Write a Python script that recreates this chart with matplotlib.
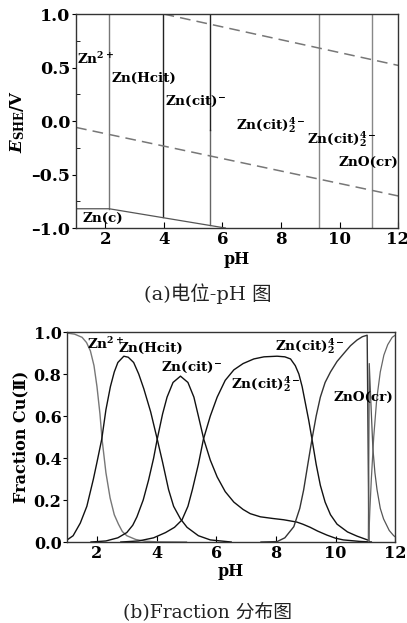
import matplotlib
matplotlib.use("Agg")
import matplotlib.pyplot as plt
from matplotlib.ticker import MultipleLocator

# ---- (a) potential-pH diagram ----
v_ph = [2.13, 3.97, 5.58, 5.58, 9.30, 11.12]
v_lo = [-0.82, -0.90, -0.97, -0.08, -1.0, -1.0]
v_hi = [1.0, 1.0, -0.08, 1.0, 1.0, 1.0]
v_col = ['#777777', '#222222', '#666666', '#222222', '#888888', '#888888']

znc_ph = [1.0, 2.13, 6.1]
znc_e = [-0.82, -0.82, -1.0]

wat_up_ph = [3.99, 12.0]
wat_up_e = [1.0, 0.52]
wat_lo_ph = [1.0, 12.0]
wat_lo_e = [-0.06, -0.70]

e_ticks = [-1.0, -0.5, 0.0, 0.5, 1.0]
e_ticklabels = ['\u20131.0', '\u20130.5', '0.0', '0.5', '1.0']

a_labels = [r'Zn$^{2+}$', 'Zn(Hcit)', r'Zn(cit)$^{-}$', r'Zn(cit)$_2^{4-}$',
            r'Zn(cit)$_2^{4-}$', 'ZnO(cr)', 'Zn(c)']
a_lx = [1.02, 2.2, 4.05, 6.45, 8.9, 9.95, 1.22]
a_ly = [0.58, 0.40, 0.18, -0.04, -0.17, -0.39, -0.91]

# ---- (b) fraction diagram ----
zn2_ph = [1.0, 1.25, 1.5, 1.65, 1.78, 1.9, 2.0, 2.1, 2.17, 2.3, 2.44, 2.58, 2.72,
          2.85, 3.0, 3.3, 3.6, 4.0, 5.0]
zn2_f = [0.995, 0.99, 0.975, 0.95, 0.91, 0.84, 0.74, 0.61, 0.49, 0.33, 0.21, 0.13,
         0.085, 0.05, 0.03, 0.012, 0.004, 0.001, 0.0]

hcit_ph = [1.0, 1.2, 1.44, 1.66, 1.88, 2.0, 2.16, 2.3, 2.45, 2.58, 2.7, 2.9, 3.05,
           3.23, 3.4, 3.57, 3.8, 4.02, 4.2, 4.4, 4.57, 4.8, 5.02, 5.4, 5.8, 6.5]
hcit_f = [0.01, 0.03, 0.09, 0.17, 0.3, 0.38, 0.49, 0.63, 0.74, 0.81, 0.855, 0.885,
          0.88, 0.855, 0.8, 0.73, 0.62, 0.49, 0.38, 0.25, 0.17, 0.11, 0.07, 0.03,
          0.01, 0.0]

cit_ph = [1.8, 2.3, 2.7, 3.0, 3.2, 3.34, 3.55, 3.73, 3.9, 4.02, 4.2, 4.35, 4.55, 4.8,
          5.05, 5.25, 5.4, 5.58, 5.8, 6.03, 6.3, 6.59, 6.9, 7.14, 7.48, 7.9, 8.26,
          8.5, 8.7, 8.9, 9.15, 9.4, 9.71, 10.0, 10.26, 10.8, 11.2]
cit_f = [0.0, 0.005, 0.02, 0.045, 0.08, 0.12, 0.2, 0.295, 0.4, 0.49, 0.61, 0.69,
         0.76, 0.79, 0.76, 0.69, 0.6, 0.49, 0.39, 0.31, 0.24, 0.19, 0.155, 0.135,
         0.12, 0.112, 0.106, 0.1, 0.095, 0.085, 0.07, 0.052, 0.033, 0.018, 0.01,
         0.003, 0.0]

cit2_ph = [2.8, 3.4, 3.9, 4.3, 4.6, 4.85, 5.05, 5.2, 5.4, 5.57, 5.8, 6.03, 6.3, 6.59,
           6.9, 7.26, 7.6, 8.04, 8.3, 8.49, 8.65, 8.77, 8.88, 8.99, 9.1, 9.21, 9.35,
           9.49, 9.65, 9.83, 10.05, 10.4, 10.72, 11.07]
cit2_f = [0.0, 0.005, 0.02, 0.045, 0.07, 0.105, 0.17, 0.25, 0.37, 0.49, 0.6, 0.69,
          0.77, 0.82, 0.85, 0.872, 0.882, 0.885, 0.882, 0.872, 0.84, 0.8, 0.74, 0.66,
          0.58, 0.49, 0.37, 0.27, 0.19, 0.13, 0.085, 0.048, 0.028, 0.01]

cit2b_ph = [7.5, 8.04, 8.3, 8.6, 8.8, 8.93, 9.07, 9.21, 9.35, 9.49, 9.65, 9.83,
            10.05, 10.27, 10.5, 10.72, 10.9, 11.06, 11.09, 11.12]
cit2b_f = [0.0, 0.002, 0.02, 0.073, 0.16, 0.248, 0.37, 0.49, 0.6, 0.69, 0.76, 0.81,
           0.86, 0.897, 0.935, 0.962, 0.978, 0.985, 0.5, 0.0]

spike_ph = [11.1, 11.13, 11.18, 11.25, 11.32, 11.39, 11.5, 11.61, 11.8, 11.95, 12.0]
spike_f = [0.0, 0.85, 0.68, 0.45, 0.33, 0.25, 0.16, 0.11, 0.055, 0.03, 0.025]

oh_ph = [11.11, 11.15, 11.2, 11.28, 11.38, 11.5, 11.62, 11.75, 11.9, 12.0]
oh_f = [0.0, 0.15, 0.3, 0.5, 0.68, 0.81, 0.89, 0.94, 0.975, 0.985]

b_labels = [r'Zn$^{2+}$', 'Zn(Hcit)', r'Zn(cit)$^{-}$', r'Zn(cit)$_2^{4-}$',
            r'Zn(cit)$_2^{4-}$', 'ZnO(cr)']
b_lx = [1.67, 2.72, 4.15, 6.48, 7.97, 9.93]
b_ly = [0.945, 0.92, 0.83, 0.75, 0.935, 0.69]

plt.rcParams['font.family'] = ['DejaVu Serif', 'Noto Sans CJK SC']
plt.rcParams['font.weight'] = 'bold'
plt.rcParams['mathtext.fontset'] = 'custom'
plt.rcParams['mathtext.rm'] = 'DejaVu Serif:bold'
plt.rcParams['mathtext.bf'] = 'DejaVu Serif:bold'
plt.rcParams['mathtext.it'] = 'DejaVu Serif:italic:bold'

LBL = 9.7

fig = plt.figure(figsize=(4.07, 6.23), dpi=100)

ax1 = fig.add_axes([0.187, 0.634, 0.791, 0.3435])
for x, lo, hi, c in zip(v_ph, v_lo, v_hi, v_col):
    ax1.plot([x, x], [lo, hi], color=c, lw=1.0)
ax1.plot(znc_ph, znc_e, color='#555555', lw=0.9)
ax1.plot(wat_up_ph, wat_up_e, color='#777777', lw=1.1, dashes=(7, 4))
ax1.plot(wat_lo_ph, wat_lo_e, color='#777777', lw=1.1, dashes=(7, 4))
for t, x, y in zip(a_labels, a_lx, a_ly):
    ax1.text(x, y, t, fontsize=LBL, fontweight='bold', va='center', ha='left')
ax1.set_xlim(1, 12)
ax1.set_ylim(-1.0, 1.0)
ax1.xaxis.set_major_locator(MultipleLocator(2))
ax1.yaxis.set_minor_locator(MultipleLocator(0.25))
ax1.set_yticks(e_ticks)
ax1.set_yticklabels(e_ticklabels)
ax1.tick_params(axis='x', direction='in', labelsize=12, length=4, pad=2)
ax1.tick_params(axis='y', which='major', direction='out', labelsize=12.5, length=3, pad=1)
ax1.tick_params(axis='y', which='minor', direction='in', length=3)
ax1.set_xlabel('pH', fontsize=11.5, fontweight='bold', labelpad=2)
ax1.set_ylabel(r'$E_{\mathrm{SHE}}$/V', fontsize=12, fontweight='bold', labelpad=3)
for s in ax1.spines.values():
    s.set_linewidth(1.0)
    s.set_color('#333333')

fig.text(0.51, 0.529, '(a)电位-pH 图', ha='center', va='center', fontsize=14,
         fontweight='normal', color='#222222')

ax2 = fig.add_axes([0.165, 0.130, 0.806, 0.337])
ax2.plot(zn2_ph, zn2_f, color='#777777', lw=1.0)
ax2.plot(hcit_ph, hcit_f, color='#111111', lw=1.0)
ax2.plot(cit_ph, cit_f, color='#111111', lw=1.0)
ax2.plot(cit2_ph, cit2_f, color='#111111', lw=1.0)
ax2.plot(cit2b_ph, cit2b_f, color='#333333', lw=1.0)
ax2.plot(spike_ph, spike_f, color='#555555', lw=0.9)
ax2.plot(oh_ph, oh_f, color='#666666', lw=0.9)
for t, x, y in zip(b_labels, b_lx, b_ly):
    ax2.text(x, y, t, fontsize=LBL, fontweight='bold', va='center', ha='left')
ax2.set_xlim(1, 12)
ax2.set_ylim(0, 1.0)
ax2.xaxis.set_major_locator(MultipleLocator(2))
ax2.yaxis.set_major_locator(MultipleLocator(0.2))
ax2.tick_params(axis='x', direction='in', labelsize=11.5, length=4, pad=2)
ax2.tick_params(axis='y', direction='out', labelsize=11.5, length=3, pad=1)
ax2.set_xlabel('pH', fontsize=11.5, fontweight='bold', labelpad=1)
ax2.set_ylabel('Fraction Cu(\u2161)', fontsize=11.5, fontweight='bold', labelpad=3)
for s in ax2.spines.values():
    s.set_linewidth(1.0)
    s.set_color('#333333')

fig.text(0.51, 0.016, '(b)Fraction 分布图', ha='center', va='center', fontsize=13.5,
         fontweight='normal', color='#222222')

fig.savefig('out.png', dpi=100)
